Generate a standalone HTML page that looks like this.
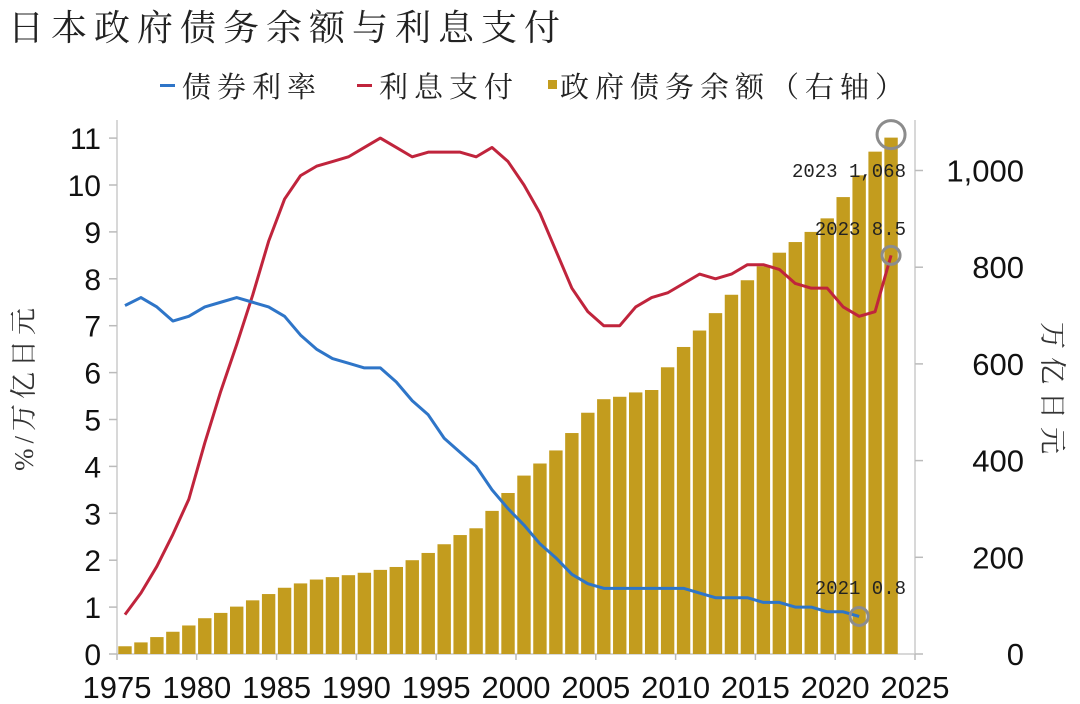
<!DOCTYPE html>
<html><head><meta charset="utf-8"><style>
html,body{margin:0;padding:0;background:#fff;width:1080px;height:704px;overflow:hidden}
svg{display:block}
.cjk{font-family:"Liberation Serif","Noto Serif CJK SC","Noto Sans CJK SC",serif}
.num{font-family:"Liberation Sans",sans-serif}
.ann{font-family:"Liberation Mono","Noto Sans CJK SC",monospace}
</style></head><body>
<svg id="chart" width="1080" height="704" viewBox="0 0 1080 704">
<text class="cjk" x="8" y="40" font-size="36" fill="#222" letter-spacing="7">日本政府债务余额与利息支付</text>
<g>
<g><rect x="160" y="84" width="15" height="3" fill="#2e75c8"/><text class="cjk" x="182" y="97" font-size="29" fill="#222" letter-spacing="6">债券利率</text></g>
<g><rect x="357" y="84" width="15" height="3" fill="#c0243c"/><text class="cjk" x="379" y="97" font-size="29" fill="#222" letter-spacing="6">利息支付</text></g>
<g><rect x="548" y="80" width="9" height="9" fill="#c39c1e"/><text class="cjk" x="560" y="97" font-size="29" fill="#222" letter-spacing="6">政府债务余额（右轴）</text></g>
</g>
<g id="axes"></g>
<g id="bars"></g>
<g id="lines"></g>
<text class="cjk" transform="translate(33,387) rotate(-90)" text-anchor="middle" font-size="27" fill="#333" letter-spacing="5">%/万亿日元</text>
<text class="cjk" transform="translate(1043,392) rotate(90)" text-anchor="middle" font-size="27" fill="#333" letter-spacing="8">万亿日元</text>
</svg>
<script>
const years = [1975,1976,1977,1978,1979,1980,1981,1982,1983,1984,1985,1986,1987,1988,1989,1990,1991,1992,1993,1994,1995,1996,1997,1998,1999,2000,2001,2002,2003,2004,2005,2006,2007,2008,2009,2010,2011,2012,2013,2014,2015,2016,2017,2018,2019,2020,2021,2022,2023];
const debt = [16,24,35,46,59,74,85,98,111,124,137,146,154,159,163,168,174,180,194,209,227,246,260,296,333,369,394,421,457,499,527,532,541,546,593,635,669,705,743,773,802,830,852,873,901,945,990,1039,1068];
const interest = [0.84,1.3,1.87,2.55,3.3,4.5,5.6,6.6,7.65,8.8,9.7,10.2,10.4,10.5,10.6,10.8,11.0,10.8,10.6,10.7,10.7,10.7,10.6,10.8,10.5,10.0,9.4,8.6,7.8,7.3,7.0,7.0,7.4,7.6,7.7,7.9,8.1,8.0,8.1,8.3,8.3,8.2,7.9,7.8,7.8,7.4,7.2,7.3,8.5];
const bondYears = [1975,1976,1977,1978,1979,1980,1981,1982,1983,1984,1985,1986,1987,1988,1989,1990,1991,1992,1993,1994,1995,1996,1997,1998,1999,2000,2001,2002,2003,2004,2005,2006,2007,2008,2009,2010,2011,2012,2013,2014,2015,2016,2017,2018,2019,2020,2021];
const bondYield = [7.43,7.6,7.4,7.1,7.2,7.4,7.5,7.6,7.5,7.4,7.2,6.8,6.5,6.3,6.2,6.1,6.1,5.8,5.4,5.1,4.6,4.3,4.0,3.5,3.1,2.75,2.35,2.05,1.7,1.5,1.4,1.4,1.4,1.4,1.4,1.4,1.3,1.2,1.2,1.2,1.1,1.1,1.0,1.0,0.9,0.9,0.8];
const leftTicks = [0,1,2,3,4,5,6,7,8,9,10,11];
const rightTicks = [0,200,400,600,800,1000];
const rightTickLabels = ["0","200","400","600","800","1,000"];
const xTicks = [1975,1980,1985,1990,1995,2000,2005,2010,2015,2020,2025];

const NS="http://www.w3.org/2000/svg";
const X0=117, X1=915, Y0=654;
const xs = y => X0 + (y-1975)*(X1-X0)/50;
const xc = y => xs(y+0.5);
const yl = v => Y0 - v*46.9;
const yr = v => Y0 - v*0.4835;
function mk(tag, attrs, parent){const e=document.createElementNS(NS,tag);for(const k in attrs)e.setAttribute(k,attrs[k]);parent.appendChild(e);return e;}
const axes=document.getElementById('axes');
const bars=document.getElementById('bars');
const lines=document.getElementById('lines');
const svg=document.getElementById('chart');

let a=mk('line',{x1:X0,y1:120,x2:X0,y2:Y0,stroke:'#ccc','stroke-width':1.5},axes);


a=mk('line',{x1:X1,y1:120,x2:X1,y2:Y0,stroke:'#ccc','stroke-width':1.5},axes);


a=mk('line',{x1:X0,y1:Y0,x2:X1,y2:Y0,stroke:'#ccc','stroke-width':1.5},axes);



leftTicks.forEach(v=>{
  mk('line',{x1:X0-8,y1:yl(v),x2:X0,y2:yl(v),stroke:'#bbb','stroke-width':1.5},axes);
  const t=mk('text',{x:101,y:yl(v)+11,'text-anchor':'end','font-size':30,fill:'#111',class:'num'},axes);
  t.textContent=v;
  
  
});
rightTicks.forEach((v,i)=>{
  mk('line',{x1:X1,y1:yr(v),x2:X1+8,y2:yr(v),stroke:'#bbb','stroke-width':1.5},axes);
  const t=mk('text',{x:1024,y:yr(v)+11,'text-anchor':'end','font-size':31,fill:'#111',class:'num'},axes);
  t.textContent=rightTickLabels[i];
  
  
});
xTicks.forEach(v=>{
  mk('line',{x1:xs(v),y1:Y0,x2:xs(v),y2:Y0+6,stroke:'#bbb','stroke-width':1.5},axes);
  const t=mk('text',{x:xs(v),y:698,'text-anchor':'middle','font-size':31,fill:'#111',class:'num'},axes);
  t.textContent=v;
  
  
});

years.forEach((y,i)=>{
  const r=mk('rect',{x:xc(y)-6.7,y:yr(debt[i]),width:13.4,height:Y0-yr(debt[i]),fill:'#c39c1e'},bars);
  
  
});

function poly(xsArr, vals, scale, color, name){
  const p=mk('polyline',{points:xsArr.map((y,i)=>xc(y)+','+scale(vals[i])).join(' '),fill:'none',stroke:color,'stroke-width':3,'stroke-linejoin':'round'},lines);
  
  
}
poly(years, interest, yl, '#c0243c', 'interest-line');
poly(bondYears, bondYield, yl, '#2e75c8', 'bond-yield-line');

const li=years.length-1, lb=bondYears.length-1;
let c=mk('circle',{cx:xc(years[li]),cy:yr(debt[li])-3,r:14,fill:'none',stroke:'#8c8c8c','stroke-width':3},svg);


c=mk('circle',{cx:xc(years[li]),cy:yl(interest[li]),r:9,fill:'none',stroke:'#8c8c8c','stroke-width':3},svg);


c=mk('circle',{cx:xc(bondYears[lb]),cy:yl(bondYield[lb]),r:9,fill:'none',stroke:'#8c8c8c','stroke-width':3},svg);



function ann(txt,x,y,name){
  const t=mk('text',{x:x,y:y,'text-anchor':'end','font-size':19,fill:'#222',class:'ann'},svg);
  t.textContent=txt;
  
  
}
ann(years[li]+'  1,068', 906, 177, 'debt-2023-annotation');
ann(years[li]+'  '+interest[li], 906, 235, 'interest-2023-annotation');
ann(bondYears[lb]+'  '+bondYield[lb], 906, 594, 'yield-2021-annotation');
</script>
</body></html>
